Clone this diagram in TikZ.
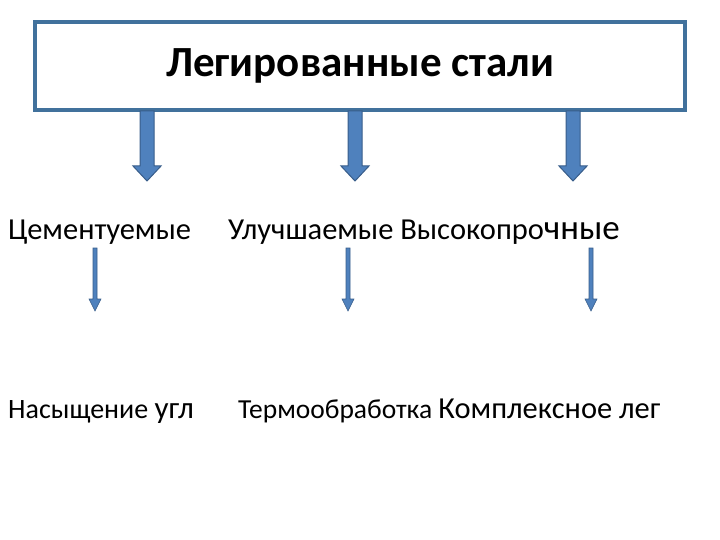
\documentclass[tikz,border=0pt]{standalone}
\usepackage{fontspec}
\setmainfont{Carlito}
\begin{document}
\begin{tikzpicture}[x=1pt,y=-1pt,
  bigarrow/.style={fill={rgb,255:red,79;green,129;blue,189},draw={rgb,255:red,56;green,93;blue,138},line width=1pt},
  txt/.style={anchor=base west,inner sep=0pt,font=\fontsize{30.5}{34}\selectfont}]
\useasboundingbox (0,0) rectangle (720,540);
\node[draw={rgb,255:red,65;green,113;blue,156},line width=4pt,minimum width=650,minimum height=88,font=\fontsize{43}{48}\selectfont\bfseries] (title) at (360,66) {Легированные стали};
% big arrows
\foreach \cx in {147,355,573}{
  \draw[bigarrow] (\cx-7,111)--(\cx+7,111)--(\cx+7,166)--(\cx+14,166)--(\cx,181)--(\cx-14,166)--(\cx-7,166)--cycle;
}
% small arrows
\foreach \cx in {95,348,591}{
  \draw[bigarrow,line width=0.6pt] (\cx-2,248)--(\cx+2,248)--(\cx+2,299)--(\cx+6,299)--(\cx,311)--(\cx-6,299)--(\cx-2,299)--cycle;
}
\node[txt] (a) at (8,240) {Цементуемые};
\node[txt] (b) at (228,240) {Улучшаемые Высокопро{\fontsize{35}{38}\selectfont чные}};
\node[txt,font=\fontsize{28}{30}\selectfont] (c) at (8,418) {Насыщение {\fontsize{31}{34}\selectfont угл}};
\node[txt,font=\fontsize{27.5}{30}\selectfont] (d) at (238,418) {Термообработка {\fontsize{30.5}{34}\selectfont Комплексное лег}};
\end{tikzpicture}
\end{document}
